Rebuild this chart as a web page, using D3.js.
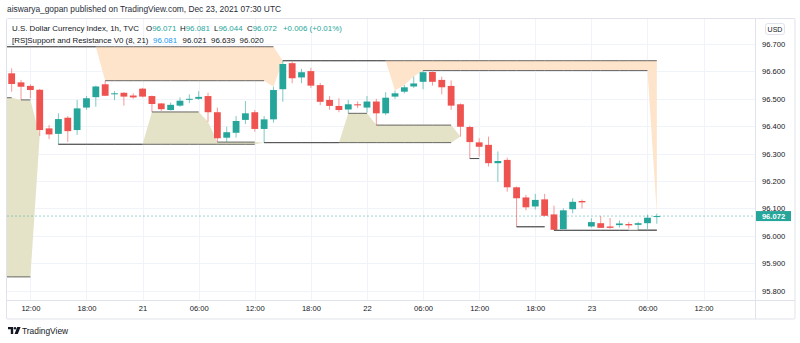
<!DOCTYPE html>
<html>
<head>
<meta charset="utf-8">
<script src="https://cdn.jsdelivr.net/npm/d3@7"></script>
<style>
  html, body { margin: 0; padding: 0; background: #ffffff; }
  svg { display: block; font-family: "Liberation Sans", Arial, sans-serif; }
</style>
</head>
<body>
<svg id="chart" width="800" height="343"></svg>
<script>
// ---- DXY hourly bars, starting 2021-12-20 10:00 UTC ----
const firstBarUtc = Date.UTC(2021, 11, 20, 10);

const barOpen = [
  96.593, 96.560, 96.547, 96.533, 96.392, 96.372, 96.431, 96.386, 96.468, 96.506,
  96.553, 96.517, 96.522, 96.512, 96.537, 96.510, 96.483, 96.459, 96.475, 96.499,
  96.500, 96.510, 96.451, 96.358, 96.376, 96.423, 96.451, 96.390, 96.425, 96.535,
  96.630, 96.578, 96.601, 96.550, 96.496, 96.474, 96.461, 96.480, 96.468, 96.490,
  96.447, 96.508, 96.526, 96.545, 96.562, 96.598, 96.569, 96.547, 96.480, 96.397,
  96.341, 96.332, 96.265, 96.277, 96.177, 96.140, 96.107, 96.133, 96.078, 96.024,
  96.097, 96.127, 96.034, 96.046, 96.034, 96.039, 96.043, 96.040, 96.046, 96.071
];
const barHigh = [
  96.611, 96.569, 96.553, 96.536, 96.404, 96.447, 96.437, 96.496, 96.510, 96.548,
  96.566, 96.528, 96.524, 96.520, 96.540, 96.512, 96.485, 96.486, 96.505, 96.516,
  96.528, 96.522, 96.468, 96.398, 96.437, 96.492, 96.459, 96.437, 96.544, 96.639,
  96.636, 96.609, 96.613, 96.558, 96.510, 96.502, 96.496, 96.490, 96.510, 96.500,
  96.524, 96.530, 96.550, 96.581, 96.603, 96.600, 96.581, 96.567, 96.483, 96.402,
  96.356, 96.362, 96.308, 96.285, 96.180, 96.149, 96.153, 96.153, 96.110, 96.100,
  96.137, 96.132, 96.064, 96.072, 96.065, 96.056, 96.050, 96.051, 96.077, 96.081
];
const barLow = [
  96.526, 96.496, 96.502, 96.365, 96.353, 96.334, 96.343, 96.368, 96.460, 96.471,
  96.510, 96.495, 96.475, 96.500, 96.505, 96.452, 96.455, 96.457, 96.471, 96.484,
  96.496, 96.416, 96.342, 96.343, 96.358, 96.408, 96.380, 96.340, 96.413, 96.489,
  96.557, 96.557, 96.540, 96.477, 96.460, 96.451, 96.447, 96.466, 96.450, 96.404,
  96.440, 96.500, 96.520, 96.540, 96.535, 96.548, 96.516, 96.460, 96.362, 96.282,
  96.289, 96.253, 96.197, 96.161, 96.033, 96.093, 96.096, 96.071, 96.020, 96.024,
  96.082, 96.100, 96.030, 96.029, 96.026, 96.030, 96.026, 96.021, 96.025, 96.044
];
const barClose = [
  96.554, 96.544, 96.532, 96.386, 96.370, 96.426, 96.382, 96.465, 96.502, 96.545,
  96.511, 96.520, 96.508, 96.505, 96.508, 96.481, 96.462, 96.478, 96.493, 96.500,
  96.507, 96.451, 96.356, 96.378, 96.419, 96.447, 96.390, 96.425, 96.532, 96.627,
  96.575, 96.597, 96.548, 96.489, 96.474, 96.459, 96.480, 96.476, 96.490, 96.447,
  96.504, 96.520, 96.542, 96.556, 96.597, 96.562, 96.542, 96.475, 96.398, 96.342,
  96.325, 96.265, 96.273, 96.177, 96.137, 96.104, 96.131, 96.073, 96.022, 96.093,
  96.124, 96.122, 96.050, 96.029, 96.029, 96.045, 96.038, 96.046, 96.066, 96.072
];

// ---- [RS] Support and Resistance V0 (8, 21) levels per bar ----
const resistFast = [
  96.690, 96.690, 96.690, 96.690, 96.690, 96.690, 96.690, 96.690, 96.690, 96.690,
  96.566, 96.566, 96.566, 96.566, 96.566, 96.566, 96.566, 96.566, 96.566, 96.566,
  96.566, 96.566, 96.566, 96.566, 96.566, 96.566, 96.566, 96.566, 96.544, 96.639,
  96.639, 96.639, 96.639, 96.639, 96.639, 96.639, 96.639, 96.639, 96.639, 96.639,
  96.639, 96.530, 96.550, 96.581, 96.603, 96.603, 96.603, 96.603, 96.603, 96.603,
  96.603, 96.603, 96.603, 96.603, 96.603, 96.603, 96.603, 96.603, 96.603, 96.603,
  96.603, 96.603, 96.603, 96.603, 96.603, 96.603, 96.603, 96.603, 96.603, 96.081
];
const resistSlow = [
  96.690, 96.690, 96.690, 96.690, 96.690, 96.690, 96.690, 96.690, 96.690, 96.690,
  96.690, 96.690, 96.690, 96.690, 96.690, 96.690, 96.690, 96.690, 96.690, 96.690,
  96.690, 96.690, 96.690, 96.690, 96.690, 96.690, 96.690, 96.690, 96.690, 96.639,
  96.639, 96.639, 96.639, 96.639, 96.639, 96.639, 96.639, 96.639, 96.639, 96.639,
  96.639, 96.639, 96.639, 96.639, 96.639, 96.639, 96.639, 96.639, 96.639, 96.639,
  96.639, 96.639, 96.639, 96.639, 96.639, 96.639, 96.639, 96.639, 96.639, 96.639,
  96.639, 96.639, 96.639, 96.639, 96.639, 96.639, 96.639, 96.639, 96.639, 96.639
];
const supportFast = [
  96.504, 96.496, 96.496, 96.365, 96.353, 96.334, 96.334, 96.334, 96.334, 96.334,
  96.334, 96.334, 96.334, 96.334, 96.334, 96.452, 96.452, 96.452, 96.452, 96.452,
  96.452, 96.416, 96.342, 96.342, 96.342, 96.342, 96.342, 96.340, 96.340, 96.340,
  96.340, 96.340, 96.340, 96.340, 96.340, 96.340, 96.447, 96.447, 96.447, 96.404,
  96.404, 96.404, 96.404, 96.404, 96.404, 96.404, 96.404, 96.404, 96.362, 96.282,
  96.282, 96.253, 96.197, 96.161, 96.033, 96.033, 96.033, 96.033, 96.020, 96.020,
  96.020, 96.020, 96.020, 96.020, 96.020, 96.020, 96.020, 96.021, 96.021, 96.021
];
const supportSlow = [
  95.850, 95.850, 95.850, 96.365, 96.353, 96.334, 96.334, 96.334, 96.334, 96.334,
  96.334, 96.334, 96.334, 96.334, 96.334, 96.334, 96.334, 96.334, 96.334, 96.334,
  96.334, 96.334, 96.334, 96.334, 96.334, 96.334, 96.334, 96.340, 96.340, 96.340,
  96.340, 96.340, 96.340, 96.340, 96.340, 96.340, 96.340, 96.340, 96.340, 96.340,
  96.340, 96.340, 96.340, 96.340, 96.340, 96.340, 96.340, 96.340, 96.362, 96.282,
  96.282, 96.253, 96.197, 96.161, 96.033, 96.033, 96.033, 96.033, 96.020, 96.020,
  96.020, 96.020, 96.020, 96.020, 96.020, 96.020, 96.020, 96.020, 96.020, 96.020
];

// ---- axis ticks ----
const priceTicks = [95.8, 95.9, 96.0, 96.1, 96.2, 96.3, 96.4, 96.5, 96.6, 96.7];
const timeTickLabels = ["12:00", "18:00", "21", "06:00", "12:00", "18:00", "22",
                        "06:00", "12:00", "18:00", "23", "06:00", "12:00"];

// ---- layout ----
const HOUR = 3600e3;
const pane = { left: 7, right: 755, top: 19, bottom: 300 };
const axisBottom = 319, outerRight = 795;
const COLORS = {
  up: "#26a69a", down: "#ef5350", grid: "#f0f3fa", border: "#e0e3eb",
  text: "#131722", peach: "#fee4ca", olive: "#e4e3c8", level: "#4e4e4e", blue: "#2196f3"
};

const N = barClose.length;
const timeOf = i => new Date(firstBarUtc + i * HOUR);
const x = d3.scaleUtc()
  .domain([timeOf(-0.5), timeOf(79.5)])
  .range([pane.left, pane.right]);
const y = d3.scaleLinear().domain([95.8, 96.7]).range([290.6, 44]);
const xi = i => x(timeOf(i));
const timeTicks = d3.utcHour.every(6).range(new Date(Date.UTC(2021, 11, 20, 12)), new Date(Date.UTC(2021, 11, 23, 13)));

const svg = d3.select("#chart");

// clip for the price pane
svg.append("defs").append("clipPath").attr("id", "paneClip")
  .append("rect")
  .attr("x", pane.left).attr("y", pane.top)
  .attr("width", pane.right - pane.left).attr("height", pane.bottom - pane.top);

// ---- grid ----
const grid = svg.append("g");
grid.selectAll("line.h").data(priceTicks).join("line")
  .attr("x1", pane.left).attr("x2", pane.right)
  .attr("y1", d => Math.round(y(d)) + 0.5).attr("y2", d => Math.round(y(d)) + 0.5)
  .attr("stroke", COLORS.grid);
grid.selectAll("line.v").data(timeTicks).join("line")
  .attr("y1", pane.top).attr("y2", pane.bottom)
  .attr("x1", d => Math.round(x(d)) + 0.5).attr("x2", d => Math.round(x(d)) + 0.5)
  .attr("stroke", COLORS.grid);

const plot = svg.append("g").attr("clip-path", "url(#paneClip)");

// ---- indicator fills (bar -1 holds the same level as bar 0) ----
const idx = d3.range(-1, N);
const lvl = (arr, i) => arr[Math.max(i, 0)];

plot.append("path")
  .attr("d", d3.area().x(xi).y0(i => y(lvl(resistFast, i))).y1(i => y(lvl(resistSlow, i)))(idx))
  .attr("fill", COLORS.peach);
plot.append("path")
  .attr("d", d3.area().x(xi).y0(i => y(lvl(supportFast, i))).y1(i => y(lvl(supportSlow, i)))(idx))
  .attr("fill", COLORS.olive);

// ---- price line ----
const lastClose = barClose[N - 1];
plot.append("line")
  .attr("x1", pane.left).attr("x2", pane.right)
  .attr("y1", y(lastClose)).attr("y2", y(lastClose))
  .attr("stroke", COLORS.up).attr("stroke-opacity", 0.45)
  .attr("stroke-dasharray", "2,2");

// ---- candles ----
const candles = plot.append("g").selectAll("g").data(d3.range(N)).join("g");
candles.append("line")
  .attr("x1", i => xi(i)).attr("x2", i => xi(i))
  .attr("y1", i => y(barHigh[i])).attr("y2", i => y(barLow[i]))
  .attr("stroke", i => barClose[i] >= barOpen[i] ? COLORS.up : COLORS.down)
  .attr("stroke-opacity", 0.6).attr("stroke-width", 1);
candles.append("rect")
  .attr("x", i => xi(i) - 3.4).attr("width", 6.8)
  .attr("y", i => y(Math.max(barOpen[i], barClose[i])))
  .attr("height", i => Math.max(1, y(Math.min(barOpen[i], barClose[i])) - y(Math.max(barOpen[i], barClose[i]))))
  .attr("fill", i => barClose[i] >= barOpen[i] ? COLORS.up : COLORS.down);

// ---- indicator levels: drawn only where the level is unchanged ----
function levelPath(arr) {
  let d = "";
  for (let i = 0; i < N; i++) {
    if (lvl(arr, i) === lvl(arr, i - 1)) {
      d += `M${xi(i - 1)},${y(arr[i])}L${xi(i)},${y(arr[i])}`;
    }
  }
  return d;
}
[resistSlow, resistFast, supportSlow, supportFast].forEach(arr => {
  plot.append("path").attr("d", levelPath(arr))
    .attr("fill", "none").attr("stroke", COLORS.level)
    .attr("stroke-width", 1).attr("stroke-opacity", 0.85);
});

// ---- frame ----
const frame = svg.append("g").attr("fill", "none").attr("stroke", COLORS.border);
frame.append("rect").attr("x", pane.left - 0.5).attr("y", pane.top - 0.5)
  .attr("width", outerRight - pane.left + 0.5).attr("height", axisBottom - pane.top + 0.5).attr("rx", 1);
frame.append("line").attr("x1", pane.right + 0.5).attr("x2", pane.right + 0.5)
  .attr("y1", pane.top).attr("y2", axisBottom);
frame.append("line").attr("x1", pane.left).attr("x2", outerRight)
  .attr("y1", pane.bottom + 0.5).attr("y2", pane.bottom + 0.5);

// ---- axes ----
const xAxis = svg.append("g")
  .attr("transform", `translate(0,${pane.bottom})`)
  .call(d3.axisBottom(x).tickValues(timeTicks).tickFormat((d, i) => timeTickLabels[i]).tickSize(0).tickPadding(6));
xAxis.select(".domain").remove();
xAxis.selectAll("text").attr("fill", COLORS.text)
  .style("font-family", "'Liberation Sans', Arial, sans-serif").style("font-size", "7.6px");

const yAxis = svg.append("g")
  .attr("transform", `translate(${pane.right},0)`)
  .call(d3.axisRight(y).tickValues(priceTicks).tickFormat(d3.format(".3f")).tickSize(0).tickPadding(7));
yAxis.select(".domain").remove();
yAxis.selectAll("text").attr("fill", COLORS.text)
  .style("font-family", "'Liberation Sans', Arial, sans-serif").style("font-size", "7.6px");

// currency badge
svg.append("rect").attr("x", 765.5).attr("y", 23.5).attr("width", 19).attr("height", 11).attr("rx", 2.5)
  .attr("fill", "#fff").attr("stroke", COLORS.border);
svg.append("text").attr("x", 775).attr("y", 31.7).attr("text-anchor", "middle")
  .attr("font-size", 7).attr("fill", COLORS.text).text("USD");

// last price tag
svg.append("rect").attr("x", pane.right + 1).attr("y", y(lastClose) - 5)
  .attr("width", 35).attr("height", 10).attr("fill", COLORS.up);
svg.append("text").attr("x", pane.right + 18.5).attr("y", y(lastClose) + 2.7)
  .attr("text-anchor", "middle").attr("font-size", 7.6).attr("font-weight", "bold")
  .attr("fill", "#fff").text(d3.format(".3f")(lastClose));

// ---- header and legend ----
const f3 = d3.format(".3f");
svg.append("text").attr("x", 7).attr("y", 12.3).attr("font-size", 8.4).attr("fill", "#2a2e39")
  .text("aiswarya_gopan published on TradingView.com, Dec 23, 2021 07:30 UTC");

const change = barClose[N - 1] - barClose[N - 2];
const changePct = change / barClose[N - 2] * 100;
const sign = v => (v >= 0 ? "+" : "") ;
const legend1 = svg.append("text").attr("y", 31).attr("font-size", 7.9).attr("fill", COLORS.text);
legend1.append("tspan").attr("x", 12).text("U.S. Dollar Currency Index, 1h, TVC");
[["O", barOpen[N - 1], 146], ["H", barHigh[N - 1], 180], ["L", barLow[N - 1], 214], ["C", barClose[N - 1], 247]]
  .forEach(([k, v, px]) => {
    legend1.append("tspan").attr("x", px).text(k);
    legend1.append("tspan").attr("fill", COLORS.up).text(f3(v));
  });
legend1.append("tspan").attr("x", 283).attr("fill", COLORS.up)
  .text(`${sign(change)}${f3(change)} (${sign(changePct)}${d3.format(".2f")(changePct)}%)`);

const legend2 = svg.append("text").attr("y", 42.6).attr("font-size", 7.9).attr("fill", COLORS.text);
legend2.append("tspan").attr("x", 12).text("[RS]Support and Resistance V0 (8, 21)");
legend2.append("tspan").attr("x", 153).attr("fill", COLORS.blue).text(f3(resistFast[N - 1]));
legend2.append("tspan").attr("x", 182.5).text(f3(supportFast[N - 1]));
legend2.append("tspan").attr("x", 211).text(f3(resistSlow[N - 1]));
legend2.append("tspan").attr("x", 239.5).text(f3(supportSlow[N - 1]));

// ---- brand mark ----
const brand = svg.append("g").attr("transform", "translate(8,327)").attr("fill", COLORS.text);
brand.append("path").attr("d", "M0,0H5.2V7H2.8V2.3H0Z");
brand.append("circle").attr("cx", 7).attr("cy", 1.2).attr("r", 1.2);
brand.append("path").attr("d", "M9.2,0H12.6L9.8,7H6.6Z");
svg.append("text").attr("x", 22).attr("y", 334).attr("font-size", 8.4).attr("fill", COLORS.text)
  .text("TradingView");
</script>
</body>
</html>
